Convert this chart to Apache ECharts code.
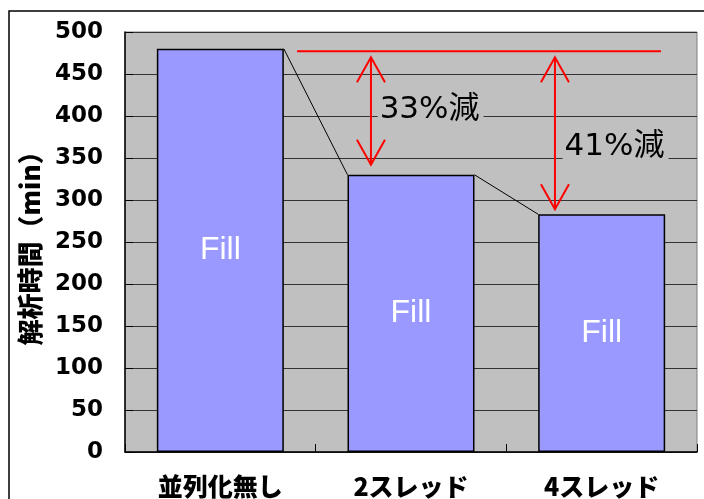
<!DOCTYPE html>
<html>
<head>
<meta charset="utf-8">
<script src="https://cdn.jsdelivr.net/npm/echarts@6/dist/echarts.min.js"></script>
<style>
  html, body { margin: 0; padding: 0; background: #fff; }
  #chart { width: 704px; height: 499px; }
</style>
</head>
<body>
<div id="chart"></div>
<script>
// ---- data ----
const categories = ['並列化無し', '2スレッド', '4スレッド'];
const times = [480, 330, 283];
const barLabels = ['Fill', 'Fill', 'Fill'];
const yAxisName = '解析時間（min）';
const yMin = 0, yMax = 500, yInterval = 50;

// annotation values
const baseLevel = 477;              // red reference line
const arrowTop = 470;               // upper arrow tips
const arrowBottoms = [342, 289];    // lower arrow tips
const reductionLabels = ['33%減', '41%減'];
const reductionLabelLevels = [407, 363];

// ---- layout constants ----
const barFrac = 0.666;
const redLineX = [0.902, 2.811];
const arrowXs = [1.29, 2.255];
const textXs = [1.325, 2.295];

const chart = echarts.init(document.getElementById('chart'));

function renderAnnotations(params, api) {
  const p = (x, v) => api.coord([x, v]);
  const children = [];
  const hw = barFrac / 2;
  // connectors between bar tops
  for (let i = 0; i < times.length - 1; i++) {
    const a = p(i + 0.5 + hw, times[i]);
    const b = p(i + 1.5 - hw, times[i + 1]);
    children.push({ type: 'line', shape: { x1: a[0], y1: a[1], x2: b[0], y2: b[1] },
      style: { stroke: '#000', lineWidth: 1 } });
  }
  // red reference line
  const l1 = p(redLineX[0], baseLevel), l2 = p(redLineX[1], baseLevel);
  children.push({ type: 'line', shape: { x1: l1[0], y1: l1[1], x2: l2[0], y2: l2[1] },
    style: { stroke: '#FF0000', lineWidth: 2 } });
  // arrows
  for (let k = 0; k < arrowXs.length; k++) {
    const t = p(arrowXs[k], arrowTop), b = p(arrowXs[k], arrowBottoms[k]);
    children.push({ type: 'line', shape: { x1: t[0], y1: t[1], x2: b[0], y2: b[1] },
      style: { stroke: '#FF0000', lineWidth: 2 } });
    children.push({ type: 'polyline', shape: { points: [[t[0] - 14, t[1] + 25], [t[0], t[1]], [t[0] + 14, t[1] + 25]] },
      style: { stroke: '#FF0000', lineWidth: 2, fill: null } });
    children.push({ type: 'polyline', shape: { points: [[b[0] - 14, b[1] - 25], [b[0], b[1]], [b[0] + 14, b[1] - 25]] },
      style: { stroke: '#FF0000', lineWidth: 2, fill: null } });
    const tp = p(textXs[k], reductionLabelLevels[k]);
    children.push({ type: 'text', style: {
      text: reductionLabels[k], x: tp[0], y: tp[1], align: 'left', verticalAlign: 'middle',
      fill: '#000', font: '31px "DejaVu Sans", "Noto Sans CJK JP", sans-serif',
      backgroundColor: '#C0C0C0', padding: [4, 4, 4, 2]
    } });
  }
  return { type: 'group', children };
}

const option = {
  animation: false,
  backgroundColor: '#ffffff',
  graphic: [{
    type: 'rect', shape: { x: 9, y: 11, width: 740, height: 540 },
    style: { fill: 'none', stroke: '#000', lineWidth: 1.5 }, silent: true
  }],
  grid: { left: 125, top: 32, right: 7, bottom: 46, show: true,
    backgroundColor: '#C0C0C0', borderColor: '#808080', borderWidth: 1 },
  xAxis: [{
    type: 'category', data: categories,
    axisLine: { lineStyle: { color: '#000', width: 1.5 } },
    axisTick: { show: true, inside: true, length: 8, lineStyle: { color: '#000' } },
    axisLabel: { color: '#000', fontSize: 25, fontWeight: 900, margin: 22,
      fontFamily: '"Noto Sans CJK JP", sans-serif' },
    splitLine: { show: false }
  }, {
    type: 'value', min: 0, max: categories.length, show: false
  }],
  yAxis: {
    type: 'value', min: yMin, max: yMax, interval: yInterval,
    name: yAxisName, nameLocation: 'middle', nameGap: 82,
    nameTextStyle: { color: '#000', fontSize: 26, fontWeight: 900,
      fontFamily: '"Noto Sans CJK JP", sans-serif' },
    axisLine: { show: true, lineStyle: { color: '#000', width: 1.5 } },
    axisTick: { show: true, inside: true, length: 8, lineStyle: { color: '#000' } },
    axisLabel: { color: '#000', fontSize: 23, fontWeight: 'bold', margin: 22,
      fontFamily: '"DejaVu Sans", sans-serif' },
    splitLine: { show: true, lineStyle: { color: '#333', width: 1 } }
  },
  series: [{
    type: 'bar',
    data: times.map((v, i) => ({ value: v, label: { formatter: barLabels[i] } })),
    barWidth: (barFrac * 100) + '%',
    itemStyle: { color: '#9999FF', borderColor: '#000', borderWidth: 1.5 },
    label: { show: true, position: 'inside', color: '#fff', fontSize: 32,
      fontFamily: '"Liberation Sans", Arial, sans-serif' },
    z: 2
  }, {
    type: 'custom', xAxisIndex: 1, yAxisIndex: 0,
    data: [[0, 0]], renderItem: renderAnnotations, z: 5, silent: true
  }]
};
chart.setOption(option);
</script>
</body>
</html>
